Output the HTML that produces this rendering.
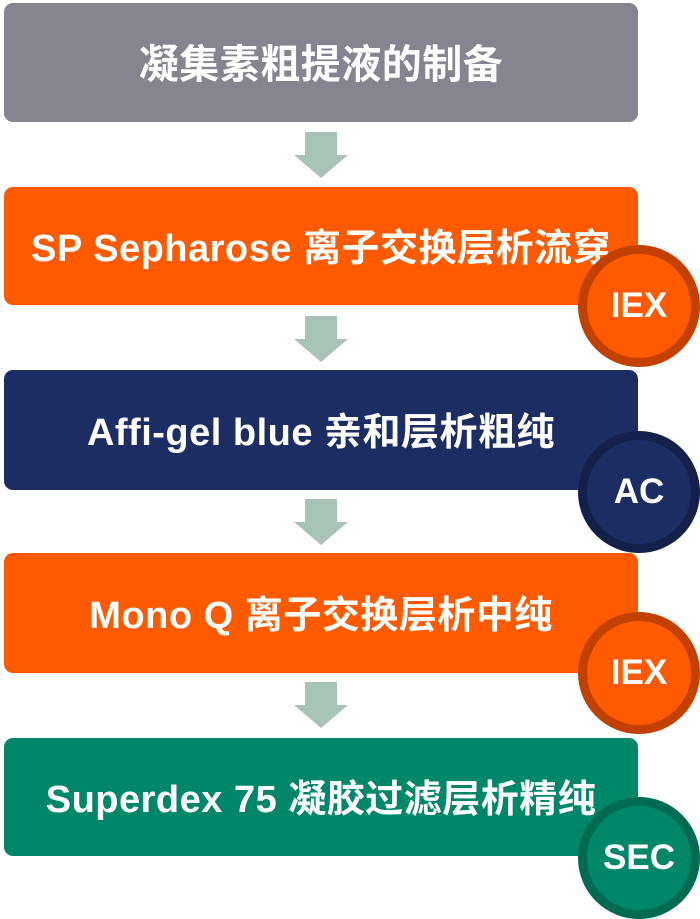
<!DOCTYPE html>
<html><head><meta charset="utf-8"><style>
html,body{margin:0;padding:0;background:#fff}
body{width:700px;height:915px;position:relative;overflow:hidden;font-family:"Liberation Sans","Noto Sans CJK SC",sans-serif;font-weight:bold;color:#fff}
.box{position:absolute;left:4px;width:634px;border-radius:9px;display:flex;align-items:center;justify-content:center;font-size:38px;letter-spacing:0.5px;padding-bottom:4px;box-sizing:border-box}
.circ{position:absolute;width:104px;height:104px;border-radius:50%;border-width:9px;border-style:solid;display:flex;align-items:center;justify-content:center;font-size:35px;box-sizing:content-box}
.arr{position:absolute;left:294px;width:54px;height:46px}
</style></head><body>
<div class="box" style="top:3px;height:119px;background:#85848f;font-size:40px">凝集素粗提液的制备</div>
<svg class="arr" style="top:132px" viewBox="0 0 54 46"><polygon points="11,0 43,0 43,23 54,23 27,46 0,23 11,23" fill="#a8c4b9"/></svg>
<div class="box" style="top:187px;height:118px;background:#ff5a00">SP Sepharose 离子交换层析流穿</div>
<div class="circ" style="left:578px;top:245px;background:#ff5a00;border-color:#c24100">IEX</div>
<svg class="arr" style="top:316px" viewBox="0 0 54 46"><polygon points="11,0 43,0 43,23 54,23 27,46 0,23 11,23" fill="#a8c4b9"/></svg>
<div class="box" style="top:370px;height:120px;background:#1b2d63">Affi-gel blue 亲和层析粗纯</div>
<div class="circ" style="left:578px;top:431px;background:#1b2d63;border-color:#13214a">AC</div>
<svg class="arr" style="top:499px" viewBox="0 0 54 46"><polygon points="11,0 43,0 43,23 54,23 27,46 0,23 11,23" fill="#a8c4b9"/></svg>
<div class="box" style="top:553px;height:120px;background:#ff5a00">Mono Q 离子交换层析中纯</div>
<div class="circ" style="left:578px;top:612px;background:#ff5a00;border-color:#c24100">IEX</div>
<svg class="arr" style="top:682px" viewBox="0 0 54 46"><polygon points="11,0 43,0 43,23 54,23 27,46 0,23 11,23" fill="#a8c4b9"/></svg>
<div class="box" style="top:738px;height:118px;background:#00876a">Superdex 75 凝胶过滤层析精纯</div>
<div class="circ" style="left:578px;top:797px;background:#00876a;border-color:#006b53">SEC</div>
</body></html>
